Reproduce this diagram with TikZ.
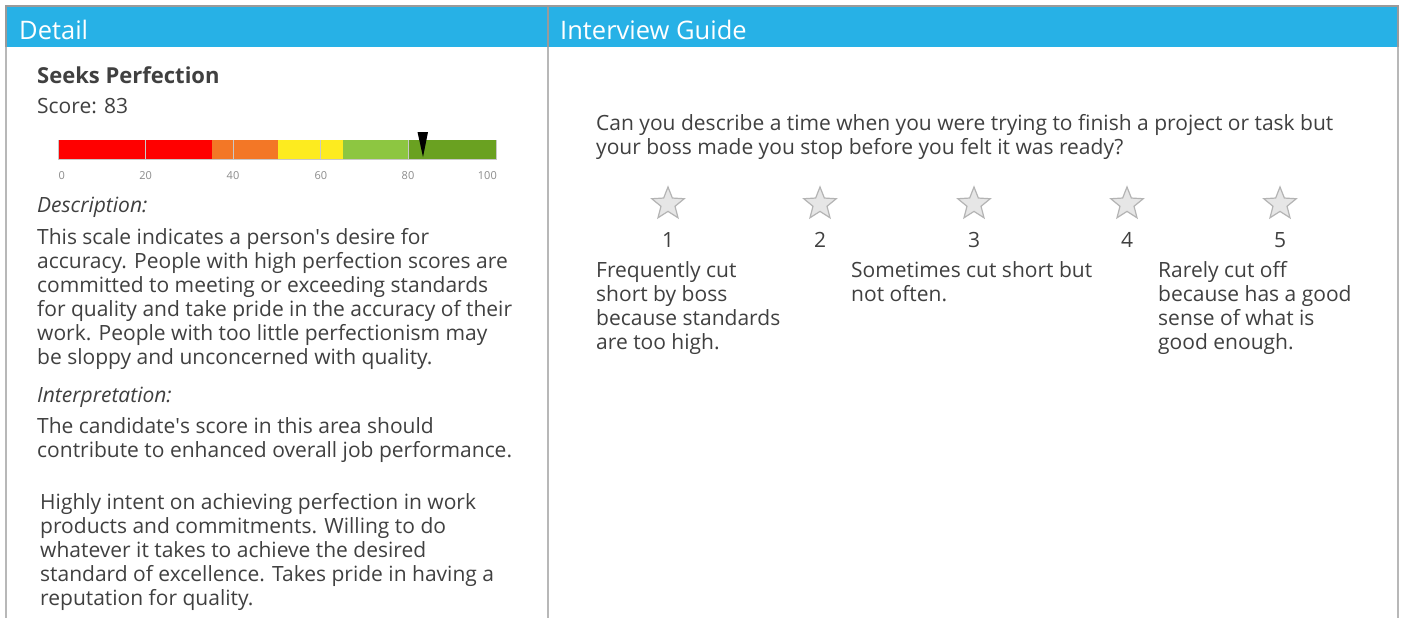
\documentclass[tikz,border=0pt]{standalone}
\usepackage{fontspec}
\setmainfont{Open Sans}
\usetikzlibrary{shapes.geometric}
\definecolor{hdr}{HTML}{27B1E6}
\definecolor{txt}{HTML}{404040}
\definecolor{bord}{HTML}{9A9A9A}
\definecolor{bordl}{HTML}{B8B8B8}
\definecolor{sred}{HTML}{FF0000}
\definecolor{sorange}{HTML}{F37726}
\definecolor{syellow}{HTML}{FDEB1F}
\definecolor{slgreen}{HTML}{8DC641}
\definecolor{sdgreen}{HTML}{6AA121}
\definecolor{grid}{HTML}{C8C8C8}
\definecolor{lbl}{HTML}{8C8C8C}
\definecolor{starfill}{HTML}{E6E6E6}
\definecolor{starline}{HTML}{B4B4B4}
\newcommand{\ap}{\textquotesingle}
\tikzset{
  hdrtxt/.style={text=white, inner sep=0pt, anchor=base west, font=\fontsize{25.5}{28}\selectfont},
  body/.style={text=txt, inner sep=0pt, anchor=base west, align=left, font=\fontsize{21}{24}\selectfont},
  qbody/.style={text=txt, inner sep=0pt, anchor=base west, align=left, font=\fontsize{21}{24}\selectfont},
  sclbl/.style={text=lbl, inner sep=0pt, anchor=base, font=\fontsize{11}{13}\selectfont},
  starbox/.style={star, star points=5, star point ratio=2.3, minimum size=34pt, inner sep=0pt, fill=starfill, draw=starline, line width=1.2pt},
  num/.style={text=txt, inner sep=0pt, anchor=base, font=\fontsize{21}{24}\selectfont}
}
\begin{document}
\begin{tikzpicture}[x=1pt,y=-1pt]
\useasboundingbox (0,0) rectangle (1403,618);
\fill[white] (0,0) rectangle (1403,618);
% header band
\fill[hdr] (6,6) rectangle (1398,47);
\draw[bordl, line width=2pt] (6,47) -- (6,618);
\draw[bordl, line width=2pt] (1398,47) -- (1398,618);
\draw[bordl, line width=2pt] (548,47) -- (548,618);
\draw[bord, line width=2pt] (6,47) -- (6,6) -- (1398,6) -- (1398,47);
\draw[bord, line width=2pt] (548,6) -- (548,47);
\node[hdrtxt] (hd) at (19,40) {Detail};
\node[hdrtxt] (hi) at (560,40) {Interview Guide};
% left panel
\node[body, font=\bfseries\fontsize{22}{24}\selectfont] (title) at (37,84) {Seeks Perfection};
\node[body] (score) at (37,113) {Score: 83};
% scale bar
\fill[sred] (58,140) rectangle (212,159);
\fill[sorange] (212,140) rectangle (278,159);
\fill[syellow] (278,140) rectangle (343,159);
\fill[slgreen] (343,140) rectangle (409,159);
\fill[sdgreen] (409,140) rectangle (496,159);
\foreach \v in {20,40,60,80} {\draw[grid, line width=0.8pt] ({58+4.38*\v},140) -- ({58+4.38*\v},159);}
\draw[grid, line width=1pt] (58,140) -- (58,160);
\draw[grid, line width=1pt] (496,140) -- (496,160);
\draw[grid, line width=1.5pt] (58,159.5) -- (496,159.5);
\fill[black] (417.5,132) -- (428,132) -- (423,157) -- cycle;
\node[sclbl, anchor=base west] (l0) at (58.5,179) {0};
\node[sclbl] (l20) at (145.6,179) {20};
\node[sclbl] (l40) at (233,179) {40};
\node[sclbl] (l60) at (320.8,179) {60};
\node[sclbl] (l80) at (408,179) {80};
\node[sclbl, anchor=base east] (l100) at (497,179) {100};
\node[body, font=\itshape\fontsize{21}{24}\selectfont] (desc) at (37,212) {Description:};
\node[body] (desct) at (37,364) {This scale indicates a person\ap s desire for\\accuracy. People with high perfection scores are\\committed to meeting or exceeding standards\\for quality and take pride in the accuracy of their\\work. People with too little perfectionism may\\be sloppy and unconcerned with quality.};
\node[body, font=\itshape\fontsize{21}{24}\selectfont] (interp) at (37,402) {Interpretation:};
\node[body] (interpt) at (37,457) {The candidate\ap s score in this area should\\contribute to enhanced overall job performance.};
\node[body] (high) at (40,605) {Highly intent on achieving perfection in work\\products and commitments. Willing to do\\whatever it takes to achieve the desired\\standard of excellence. Takes pride in having a\\reputation for quality.};
% right panel
\node[qbody] (q) at (596,154) {Can you describe a time when you were trying to finish a project or task but\\your boss made you stop before you felt it was ready?};
\foreach \i/\x in {1/668,2/820,3/974,4/1127,5/1280} {
  \node[starbox] (s\i) at (\x,204) {};
  \node[num] (n\i) at (\x,247) {\i};
}
\node[qbody] (a1) at (596,349) {Frequently cut\\short by boss\\because standards\\are too high.};
\node[qbody] (a3) at (851,301) {Sometimes cut short but\\not often.};
\node[qbody] (a5) at (1158,349) {Rarely cut off\\because has a good\\sense of what is\\good enough.};
\end{tikzpicture}
\end{document}
